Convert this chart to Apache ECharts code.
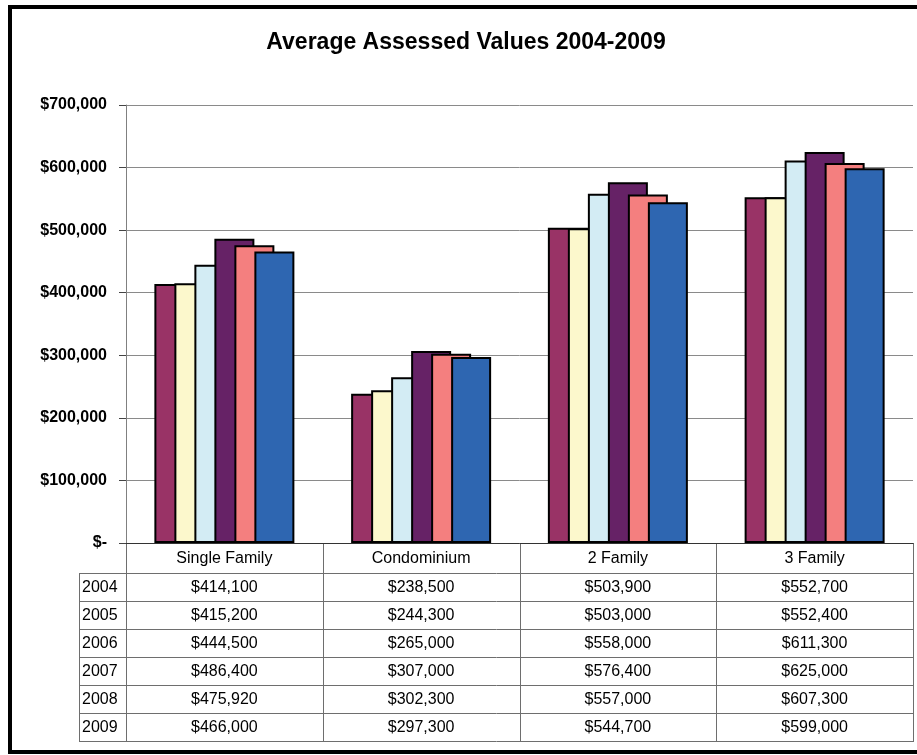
<!DOCTYPE html>
<html>
<head>
<meta charset="utf-8">
<script src="https://cdn.jsdelivr.net/npm/echarts@6/dist/echarts.min.js"></script>
<style>html,body{margin:0;padding:0;background:#fff;}#c{width:917px;height:755px;}</style>
</head>
<body>
<div id="c"></div>
<script>
const titleText = 'Average Assessed Values 2004-2009';
const categories = ['Single Family', 'Condominium', '2 Family', '3 Family'];
const years = ['2004', '2005', '2006', '2007', '2008', '2009'];
const values2004 = [414100, 238500, 503900, 552700];
const values2005 = [415200, 244300, 503000, 552400];
const values2006 = [444500, 265000, 558000, 611300];
const values2007 = [486400, 307000, 576400, 625000];
const values2008 = [475920, 302300, 557000, 607300];
const values2009 = [466000, 297300, 544700, 599000];
const yTicks = [0, 100000, 200000, 300000, 400000, 500000, 600000, 700000];
const seriesValues = [values2004, values2005, values2006, values2007, values2008, values2009];
const colors = ['#993366', '#FCF8CC', '#D3ECF4', '#662266', '#F47F7F', '#2E66B1'];

const W = 917, H = 755;
const gridL = 126, gridR = 913, gridT = 105, gridB = 543;
const rowH = 28, headerH = 30, yearColL = 79;
const font = '"Liberation Sans", Arial, sans-serif';

function money(v) {
  if (v === 0) return '$-';
  return '$' + v.toString().replace(/\B(?=(\d{3})+(?!\d))/g, ',');
}

const chart = echarts.init(document.getElementById('c'), null, {renderer: 'canvas'});

const graphics = [];
graphics.push({type: 'rect', shape: {x: 10, y: 7, width: 920, height: 745},
  style: {fill: 'none', stroke: '#000', lineWidth: 4}, z: 100});
graphics.push({type: 'text', x: 466, y: 43,
  style: {text: titleText, font: 'bold 23px ' + font, fill: '#000', textAlign: 'center', textVerticalAlign: 'middle'}});

const colW = (gridR - gridL) / categories.length;
const tableTop = gridB + headerH;
const tableBottom = tableTop + rowH * years.length;
const lineStyle = {stroke: '#6e6e6e', lineWidth: 1};
for (let i = 0; i <= categories.length; i++) {
  const x = Math.round(gridL + i * colW) + 0.5;
  graphics.push({type: 'line', shape: {x1: x, y1: gridB, x2: x, y2: tableBottom}, style: lineStyle});
}
graphics.push({type: 'line', shape: {x1: yearColL + 0.5, y1: tableTop, x2: yearColL + 0.5, y2: tableBottom}, style: lineStyle});
for (let r = 0; r <= years.length; r++) {
  const y = Math.round(tableTop + r * rowH) + 0.5;
  graphics.push({type: 'line', shape: {x1: yearColL, y1: y, x2: gridR + 1, y2: y}, style: lineStyle});
}
years.forEach((yr, r) => {
  const cy = tableTop + r * rowH + rowH / 2 + 1;
  graphics.push({type: 'text', x: yearColL + 3, y: cy,
    style: {text: yr, font: '16px ' + font, fill: '#000', textAlign: 'left', textVerticalAlign: 'middle'}});
  seriesValues[r].forEach((v, c) => {
    graphics.push({type: 'text', x: gridL + c * colW + colW / 2, y: cy,
      style: {text: money(v), font: '16px ' + font, fill: '#000', textAlign: 'center', textVerticalAlign: 'middle'}});
  });
});

const series = years.map((yr, i) => ({
  name: yr,
  type: 'bar',
  data: seriesValues[i],
  barWidth: 40,
  barGap: '-50%',
  itemStyle: {color: colors[i], borderColor: '#000', borderWidth: 2},
  emphasis: {disabled: true},
  animation: false
}));

chart.setOption({
  animation: false,
  backgroundColor: '#fff',
  grid: {left: gridL, right: W - gridR, top: gridT, bottom: H - gridB, containLabel: false},
  xAxis: {
    type: 'category',
    data: categories,
    axisLine: {show: true, lineStyle: {color: '#333', width: 1}},
    axisTick: {show: false},
    axisLabel: {show: true, margin: 16, verticalAlign: 'middle', fontSize: 16, fontFamily: font, color: '#000'},
    splitLine: {show: false}
  },
  yAxis: {
    type: 'value',
    min: yTicks[0],
    max: yTicks[yTicks.length - 1],
    interval: yTicks[1] - yTicks[0],
    axisLine: {show: true, lineStyle: {color: '#808080', width: 1}},
    axisTick: {show: true, length: 7, lineStyle: {color: '#444'}},
    axisLabel: {margin: 19, fontSize: 16, fontWeight: 'bold', fontFamily: font, color: '#000', formatter: money},
    splitLine: {show: true, lineStyle: {color: '#8a8a8a', width: 1}}
  },
  series: series,
  graphic: graphics
});
</script>
</body>
</html>
